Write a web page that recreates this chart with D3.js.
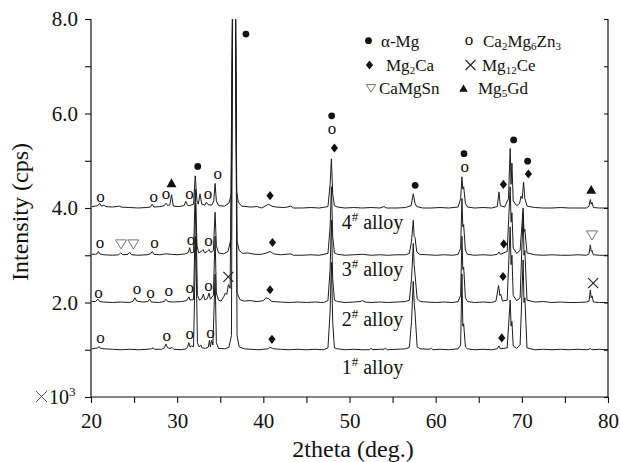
<!DOCTYPE html>
<html><head><meta charset="utf-8">
<script src="https://cdn.jsdelivr.net/npm/d3@7"></script>
<style>body{margin:0;background:#fff}svg{display:block}text{font-family:"Liberation Serif","Times New Roman",serif;fill:#111}</style>
</head><body><svg id="c" width="620" height="462"></svg>
<script>
// ---- data (2theta, intensity x10^3 cps, stacked) ----
const alloy1 = [[20.1,1.02],[20.5,1.03],[20.8,1.04],[20.95,1.07],[21.1,1.03],[21.5,1.02],[22.5,1.01],[23.5,1.0],[24.5,1.01],[25.5,1.0],[26.5,1.01],[27.0,1.02],[27.2,1.04],[27.4,1.01],[28.2,1.01],[28.5,1.04],[28.7,1.12],[28.9,1.04],[29.2,1.03],[29.4,1.05],[29.6,1.01],[30.5,1.0],[31.0,1.02],[31.2,1.05],[31.35,1.15],[31.5,1.06],[31.7,1.08],[31.9,1.06],[32.15,3.4],[32.35,1.15],[32.55,1.06],[32.75,1.1],[32.9,1.04],[33.3,1.03],[33.6,1.05],[33.75,1.2],[33.85,1.06],[34.0,1.2],[34.15,1.1],[34.4,2.6],[34.55,1.15],[34.8,1.03],[35.5,1.02],[36.0,1.05],[36.3,1.3],[36.45,9.0],[36.6,10.0],[36.75,9.0],[36.95,1.3],[37.2,1.06],[37.8,1.02],[38.5,1.01],[39.5,1.0],[40.5,1.02],[40.8,1.05],[41.2,1.02],[42.0,1.01],[43.0,1.0],[44.0,1.01],[45.0,1.0],[46.0,1.01],[47.0,1.0],[47.5,1.04],[47.75,1.8],[47.9,2.85],[48.05,1.6],[48.25,1.04],[48.6,1.02],[49.5,1.0],[50.5,1.01],[51.5,1.0],[52.3,1.0],[52.5,1.03],[52.7,1.0],[53.5,1.01],[54.0,1.01],[54.2,1.03],[54.4,1.0],[55.5,1.01],[56.5,1.02],[56.95,1.05],[57.2,1.6],[57.4,2.45],[57.5,2.0],[57.6,1.8],[57.85,1.06],[58.2,1.02],[59.3,1.01],[59.5,1.03],[59.7,1.0],[60.5,1.01],[61.5,1.0],[62.6,1.02],[62.9,1.1],[63.05,2.6],[63.15,1.5],[63.25,1.55],[63.45,1.06],[63.7,1.02],[64.5,1.0],[65.5,1.01],[66.5,1.0],[67.15,1.02],[67.35,1.08],[67.5,1.02],[68.3,1.04],[68.65,2.05],[68.75,1.5],[68.85,1.6],[69.0,1.08],[69.4,1.03],[69.8,1.1],[70.15,2.9],[70.25,2.0],[70.35,2.1],[70.6,1.04],[71.5,1.0],[72.5,1.01],[73.5,1.0],[74.5,1.01],[75.5,1.0],[76.5,1.01],[77.5,1.0],[77.8,1.01],[77.95,1.03],[78.1,1.0],[79.0,1.01],[80.0,1.0]];
const alloy2 = [[20.1,2.02],[20.5,2.02],[20.8,2.07],[21.0,2.02],[21.5,2.01],[22.5,2.0],[23.5,2.01],[24.5,2.0],[24.9,2.03],[25.1,2.1],[25.3,2.03],[26.0,2.01],[26.6,2.02],[26.8,2.07],[27.0,2.01],[27.8,2.0],[28.5,2.02],[28.7,2.07],[28.9,2.02],[29.5,2.01],[30.5,2.02],[31.1,2.04],[31.35,2.12],[31.5,2.05],[31.9,2.06],[32.15,4.1],[32.35,2.15],[32.6,2.05],[32.85,2.08],[33.05,2.18],[33.2,2.06],[33.5,2.08],[33.7,2.2],[33.85,2.07],[34.2,2.15],[34.4,3.4],[34.55,2.2],[34.8,2.05],[35.1,2.03],[35.4,2.12],[35.6,2.2],[35.75,2.17],[35.95,2.38],[36.15,2.3],[36.45,9.0],[36.6,10.0],[36.75,9.0],[36.95,2.2],[37.3,2.06],[37.8,2.03],[38.5,2.04],[39.3,2.02],[40.0,2.04],[40.3,2.1],[40.6,2.08],[41.0,2.02],[42.0,2.01],[43.0,2.0],[44.0,2.01],[45.0,2.0],[46.0,2.01],[47.0,2.0],[47.5,2.04],[47.75,2.7],[47.9,3.75],[48.05,2.5],[48.25,2.05],[48.6,2.02],[49.5,2.0],[50.5,2.01],[51.2,2.02],[51.5,2.04],[51.8,2.01],[52.5,2.0],[53.5,2.01],[54.5,2.0],[55.5,2.01],[56.5,2.02],[56.95,2.05],[57.2,2.5],[57.4,3.25],[57.5,2.8],[57.6,2.6],[57.85,2.08],[58.2,2.02],[59.0,2.01],[60.0,2.0],[61.0,2.01],[62.0,2.0],[62.6,2.02],[62.9,2.15],[63.05,3.4],[63.15,2.7],[63.25,2.75],[63.45,2.1],[63.7,2.02],[64.5,2.0],[65.5,2.01],[66.5,2.0],[67.0,2.03],[67.3,2.36],[67.45,2.15],[67.55,2.18],[67.75,2.03],[68.3,2.05],[68.65,3.6],[68.75,2.8],[68.85,3.0],[69.0,2.15],[69.4,2.04],[69.8,2.1],[70.15,3.9],[70.25,3.0],[70.35,3.1],[70.6,2.05],[71.5,2.01],[72.5,2.02],[73.5,2.0],[74.5,2.01],[75.5,2.0],[76.5,2.0],[77.5,2.01],[77.8,2.03],[77.95,2.26],[78.05,2.1],[78.15,2.14],[78.3,2.01],[79.0,2.0],[80.0,2.0]];
const alloy3 = [[20.1,3.02],[20.5,3.02],[20.7,3.03],[20.85,3.08],[21.0,3.03],[21.5,3.01],[22.5,3.0],[23.2,3.01],[23.45,3.05],[23.7,3.01],[24.3,3.02],[24.5,3.06],[24.7,3.01],[25.5,3.0],[26.5,3.01],[26.9,3.03],[27.1,3.08],[27.3,3.02],[28.0,3.01],[28.7,3.03],[29.3,3.02],[30.0,3.01],[30.5,3.02],[31.0,3.03],[31.3,3.06],[31.45,3.16],[31.6,3.05],[31.9,3.06],[32.1,4.4],[32.3,3.2],[32.5,3.05],[32.8,3.08],[33.0,3.12],[33.2,3.05],[33.5,3.08],[33.7,3.12],[33.9,3.06],[34.2,3.1],[34.4,3.91],[34.55,3.2],[34.8,3.05],[35.4,3.03],[35.9,3.08],[36.25,3.35],[36.45,9.0],[36.6,10.0],[36.75,9.0],[36.95,3.3],[37.2,3.1],[37.6,3.04],[38.2,3.05],[39.0,3.02],[39.8,3.02],[40.4,3.05],[40.8,3.08],[41.2,3.03],[42.0,3.01],[43.2,3.03],[43.5,3.0],[44.5,3.0],[45.5,3.01],[46.5,3.0],[47.5,3.04],[47.75,3.6],[47.9,4.45],[48.05,3.4],[48.25,3.05],[48.6,3.02],[49.5,3.0],[50.5,3.01],[51.5,3.02],[52.5,3.0],[53.5,3.01],[54.5,3.0],[55.5,3.01],[56.5,3.01],[56.95,3.04],[57.2,3.3],[57.4,3.74],[57.5,3.4],[57.6,3.38],[57.8,3.08],[58.1,3.02],[59.0,3.01],[60.0,3.0],[61.0,3.01],[62.0,3.0],[62.6,3.02],[62.9,3.15],[63.05,4.2],[63.15,3.6],[63.25,3.65],[63.45,3.1],[63.7,3.02],[64.5,3.0],[65.5,3.01],[66.5,3.0],[67.15,3.02],[67.35,3.07],[67.5,3.02],[68.3,3.08],[68.65,4.45],[68.75,3.7],[68.85,3.9],[69.0,3.15],[69.4,3.04],[69.8,3.1],[70.15,4.0],[70.25,3.5],[70.35,3.55],[70.6,3.05],[71.5,3.01],[72.5,3.0],[73.5,3.01],[74.5,3.0],[75.5,3.0],[76.5,3.01],[77.5,3.0],[77.8,3.03],[77.95,3.22],[78.05,3.08],[78.15,3.1],[78.3,3.01],[79.0,3.0],[80.0,3.0]];
const alloy4 = [[20.1,4.03],[20.5,4.04],[20.8,4.05],[21.0,4.10],[21.2,4.04],[21.5,4.06],[21.7,4.03],[22.5,4.02],[23.3,4.04],[23.5,4.02],[24.5,4.01],[25.5,4.0],[26.4,4.01],[26.9,4.02],[27.1,4.08],[27.3,4.02],[28.0,4.03],[28.5,4.05],[28.7,4.1],[28.9,4.05],[29.15,4.07],[29.35,4.28],[29.55,4.04],[30.2,4.03],[30.8,4.05],[31.0,4.14],[31.2,4.06],[31.4,4.05],[31.9,4.08],[32.1,4.68],[32.3,4.15],[32.45,4.08],[32.65,4.3],[32.85,4.08],[33.2,4.06],[33.4,4.12],[33.6,4.07],[34.0,4.06],[34.25,4.15],[34.4,4.52],[34.55,4.15],[34.8,4.05],[35.5,4.04],[36.0,4.1],[36.3,4.3],[36.45,9.0],[36.6,10.0],[36.75,9.0],[36.9,4.35],[37.1,4.12],[37.5,4.04],[38.5,4.02],[39.3,4.03],[39.8,4.0],[40.3,4.05],[40.6,4.08],[41.0,4.04],[41.5,4.02],[42.5,4.01],[43.2,4.04],[43.5,4.0],[44.5,4.0],[45.5,4.01],[46.5,4.0],[47.5,4.03],[47.75,4.5],[47.9,5.04],[48.05,4.3],[48.25,4.05],[48.6,4.02],[49.5,4.0],[50.5,4.01],[51.5,4.0],[52.5,4.01],[53.5,4.0],[54.0,4.03],[54.3,4.0],[55.5,4.0],[56.5,4.01],[57.15,4.05],[57.4,4.3],[57.6,4.1],[57.8,4.03],[58.5,4.0],[59.5,4.0],[60.5,4.01],[61.5,4.0],[62.6,4.02],[62.9,4.2],[63.05,4.66],[63.15,4.4],[63.25,4.45],[63.45,4.1],[63.7,4.02],[64.5,4.0],[65.5,4.01],[66.5,4.0],[67.15,4.03],[67.35,4.34],[67.5,4.05],[68.0,4.02],[68.45,4.2],[68.65,5.26],[68.75,4.5],[68.85,4.95],[69.0,4.15],[69.4,4.05],[69.75,4.1],[69.9,4.25],[70.05,4.2],[70.2,4.55],[70.35,4.2],[70.6,4.04],[71.5,4.01],[72.5,4.0],[73.5,4.0],[74.5,4.01],[75.5,4.0],[76.5,4.0],[77.5,4.0],[77.8,4.04],[77.95,4.18],[78.05,4.08],[78.15,4.12],[78.3,4.01],[79.0,4.0],[80.0,4.0]];

// phase markers: [symbol, 2theta, intensity]
const markers4 = [["o",21.09,4.22],["o",27.27,4.22],["o",28.7,4.27],["tri",29.34,4.53],["o",31.42,4.27],["dot",32.39,4.88],["o",33.59,4.27],["o",34.7,4.69],["dot",37.98,7.68],["dia",40.78,4.26],["dot",47.93,5.95],["o",47.97,5.65],["dia",48.25,5.27],["dot",57.62,4.48],["dot",63.29,5.15],["o",63.38,4.85],["dia",67.86,4.5],["dot",69.05,5.44],["dot",70.67,4.99],["dia",70.76,4.72],["tri",78.05,4.39]];
const markers3 = [["o",21.05,3.23],["tdown",23.49,3.23],["tdown",24.92,3.23],["o",27.37,3.23],["o",31.61,3.3],["o",33.63,3.27],["dia",41.06,3.27],["dia",67.9,3.24],["tdown",78.14,3.42]];
const markers2 = [["o",20.86,2.19],["o",25.33,2.26],["o",26.9,2.18],["o",29.03,2.22],["o",31.47,2.29],["o",33.63,2.32],["x",35.94,2.54],["dia",40.78,2.27],["dia",67.81,2.55],["x",78.28,2.41]];
const markers1 = [["o",21.09,1.23],["o",28.8,1.28],["o",31.47,1.32],["o",33.87,1.34],["dia",41.0,1.22],["dia",67.67,1.25]];

const seriesNames = ["1", "2", "3", "4"];
const seriesLabelPos = [[49.1,0.48],[49.1,1.51],[49.1,2.57],[49.1,3.56]];
const xTicks = [20,25,30,35,40,45,50,55,60,65,70,75,80];
const yTicks = [0,1,2,3,4,5,6,7,8];
const legendItems = [
  ["dot", [["α-Mg"]]],
  ["o", [["Ca"],["2",1],["Mg"],["6",1],["Zn"],["3",1]]],
  ["dia", [["Mg"],["2",1],["Ca"]]],
  ["x", [["Mg"],["12",1],["Ce"]]],
  ["tdown", [["CaMgSn"]]],
  ["tri", [["Mg"],["5",1],["Gd"]]]
];

// ---- drawing ----
const SERIF = '"Liberation Serif","Times New Roman",serif';
const svg = d3.select("#c");
const L = 91, R = 608, T = 19, B = 397;
const x = d3.scaleLinear().domain([20, 80]).range([L, R]);
const y = d3.scaleLinear().domain([0, 8]).range([B, T]);

svg.append("defs").append("clipPath").attr("id", "clip")
  .append("rect").attr("x", L).attr("y", T).attr("width", R - L).attr("height", B - T);

const line = d3.line().x(d => x(d[0])).y(d => y(d[1]));
[alloy1, alloy2, alloy3, alloy4].forEach(s => {
  svg.append("path").datum(s).attr("d", line).attr("clip-path", "url(#clip)")
    .attr("fill", "none").attr("stroke", "#1c1c1c").attr("stroke-width", 1).attr("stroke-linejoin", "round");
});

function drawSym(g, sym, cx, cy, small) {
  const k = small ? 0.85 : 1;
  if (sym === "dot") g.append("circle").attr("cx", cx).attr("cy", cy).attr("r", 3.4).attr("fill", "#111");
  else if (sym === "o") g.append("text").attr("x", cx).attr("y", cy + 4).attr("text-anchor", "middle").style("font-size", "17px").text("o");
  else if (sym === "dia") g.append("path").attr("d", `M${cx},${cy-4.6}L${cx+3.6},${cy}L${cx},${cy+4.6}L${cx-3.6},${cy}Z`).attr("fill", "#111");
  else if (sym === "x") g.append("path").attr("d", `M${cx-5},${cy-5}L${cx+5},${cy+5}M${cx+5},${cy-5}L${cx-5},${cy+5}`).attr("stroke", "#222").attr("stroke-width", 1.1).attr("fill", "none");
  else if (sym === "tdown") g.append("path").attr("d", `M${cx-5.5*k},${cy-4.5*k}L${cx+5.5*k},${cy-4.5*k}L${cx},${cy+4.5*k}Z`).attr("stroke", "#777").attr("stroke-width", 1).attr("fill", "none");
  else if (sym === "tri") g.append("path").attr("d", `M${cx-5*k},${cy+4.2*k}L${cx+5*k},${cy+4.2*k}L${cx},${cy-4.6*k}Z`).attr("fill", "#111");
}

const mg = svg.append("g");
[markers1, markers2, markers3, markers4].forEach(ms => ms.forEach(m => drawSym(mg, m[0], x(m[1]), y(m[2]), false)));

// series labels
seriesNames.forEach((n, i) => {
  const t = svg.append("text").attr("x", x(seriesLabelPos[i][0])).attr("y", y(seriesLabelPos[i][1])).style("font-size", "20px");
  t.append("tspan").text(n);
  t.append("tspan").style("font-size", "13px").attr("dy", -8).text("#");
  t.append("tspan").attr("dy", 8).text(" alloy");
});

// axes
const ax = svg.append("g").attr("transform", `translate(0,${B})`)
  .call(d3.axisBottom(x).tickValues(xTicks).tickSize(6).tickPadding(10).tickFormat(d => d % 10 === 0 ? d : ""));
const ay = svg.append("g").attr("transform", `translate(${L},0)`)
  .call(d3.axisLeft(y).tickValues(yTicks).tickSize(6).tickPadding(7).tickFormat(d => (d > 0 && d % 2 === 0) ? d.toFixed(1) : ""));
const ar = svg.append("g").attr("transform", `translate(${R},0)`)
  .call(d3.axisRight(y).tickValues(yTicks).tickSize(-4).tickFormat(""));
[ax, ay, ar].forEach(a => {
  a.attr("font-family", null).attr("font-size", null);
  a.select(".domain").attr("stroke", "#111").attr("stroke-width", 1.2);
  a.selectAll(".tick line").attr("stroke", "#111").attr("stroke-width", 1.1);
  a.selectAll("text").style("font-family", SERIF).style("font-size", "21px").style("fill", "#111");
});
ax.select(".domain").attr("d", `M${L},0H${R}`);
ay.select(".domain").attr("d", `M0,${T}V${B}`);
ar.select(".domain").attr("d", `M0,${T}V${B}`);

// x10^3 (multiplier drawn as a thin cross followed by text)
svg.append("path").attr("d", "M36,391L47,402M47,391L36,402").attr("stroke", "#555").attr("stroke-width", 1);
const mul = svg.append("text").attr("x", 49).attr("y", 404).style("font-family", SERIF).style("font-size", "20px");
mul.append("tspan").style("font-size", "20px").text("10");
mul.append("tspan").style("font-size", "13px").attr("dy", -8).text("3");

// axis titles
svg.append("text").attr("x", 353).attr("y", 457).attr("text-anchor", "middle").style("font-size", "24px").text("2theta (deg.)");
svg.append("text").attr("transform", "translate(28,212) rotate(-90)").attr("text-anchor", "middle").style("font-size", "24px").text("Intensity (cps)");

// legend
const lg = svg.append("g");
const legPos = [[368.5,40.7,381,46.5],[469,40.7,483,46.5],[369.5,65,386,70.5],[470.5,65,482,70.5],[371,88.3,379,94],[463.5,88.3,478,94]];
legendItems.forEach((it, i) => {
  const p = legPos[i];
  drawSym(lg, it[0], p[0], p[1], true);
  const t = lg.append("text").attr("x", p[2]).attr("y", p[3]).style("font-size", "17px");
  let prevSub = false;
  it[1].forEach(seg => {
    const sub = !!seg[1];
    const ts = t.append("tspan").text(seg[0]);
    if (sub) ts.style("font-size", "11px").attr("dy", prevSub ? 0 : 3);
    else if (prevSub) ts.attr("dy", -3);
    prevSub = sub;
  });
});
</script></body></html>
